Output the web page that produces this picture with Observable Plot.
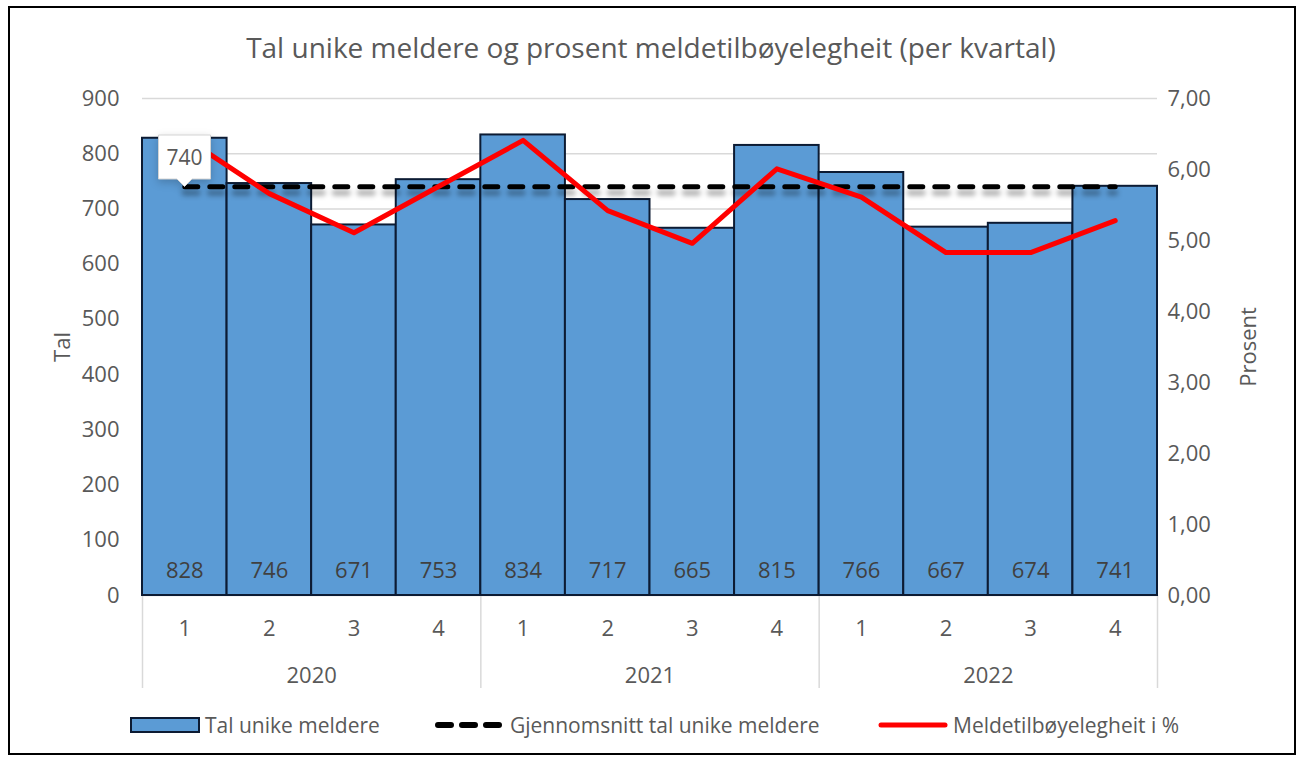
<!DOCTYPE html>
<html><head><meta charset="utf-8">
<script src="https://cdn.jsdelivr.net/npm/d3@7"></script>
<script src="https://cdn.jsdelivr.net/npm/@observablehq/plot@0.6"></script>
<style>
body{margin:0;background:#fff;font-family:"Open Sans",Lato,sans-serif;}
#wrap{position:relative;width:1300px;height:758px;overflow:hidden;background:#fff;}
#frame{position:absolute;left:8px;top:6px;width:1288px;height:749px;border:2px solid #000;box-sizing:border-box;pointer-events:none;}
#title{position:absolute;top:27px;left:0;width:1302px;text-align:center;font-size:28px;line-height:40px;color:#595959;}
#chart{position:absolute;left:0;top:0;}
#legend{position:absolute;top:711px;left:0;width:1300px;height:28px;}
.item{position:absolute;top:0;display:flex;align-items:center;height:28px;font-size:21px;color:#595959;white-space:nowrap;}
.item svg{margin-right:5px;}
</style>
</head><body>
<div id="wrap">
  <div id="chart"></div>
  <div id="title"></div>
  <div id="legend"></div>
  <div id="frame"></div>
</div>
<script>
const title = "Tal unike meldere og prosent meldetilbøyelegheit (per kvartal)";
const quarters = ["1","2","3","4","1","2","3","4","1","2","3","4"];
const years = ["2020","2021","2022"];
const meldere = [828,746,671,753,834,717,665,815,766,667,674,741];
const prosent = [6.45,5.66,5.11,5.76,6.41,5.42,4.96,6.01,5.61,4.83,4.83,5.28];
const snitt = 740;
const leftTicks = [0,100,200,300,400,500,600,700,800,900];
const rightTicks = [0,1,2,3,4,5,6,7];
const seriesNames = ["Tal unike meldere","Gjennomsnitt tal unike meldere","Meldetilbøyelegheit i %"];
const axisTitles = ["Tal","Prosent"];

const leftMax = 900, rightMax = 7;
const k = leftMax / rightMax;
const perYear = quarters.length / years.length;
const rows = meldere.map((v,i)=>({i, q: quarters[i], year: years[Math.floor(i/perYear)], v, p: prosent[i]}));
const yearRows = years.map((y,j)=>({year:y, c: j*perYear + perYear/2}));
const seps = d3.range(0, quarters.length + 1, perYear);
const mid = d => d.i + 0.5;

const blue = "#5B9BD5", outline = "#0c1b33", red = "#FF0000", txt = "#595959";
const font = "'Open Sans', Lato, sans-serif";
const fs = 22;

document.getElementById("title").textContent = title;

const chart = Plot.plot({
  width: 1300, height: 700,
  marginTop: 98, marginBottom: 105, marginLeft: 142, marginRight: 143,
  style: {fontFamily: font, fontSize: "20px", color: txt, background: "transparent", overflow: "visible"},
  x: {domain: [0, quarters.length], axis: null},
  y: {domain: [0, leftMax], axis: null},
  marks: [
    Plot.ruleY(leftTicks, {stroke: "#d9d9d9", strokeWidth: 1.5}),
    Plot.axisY({anchor: "left", ticks: leftTicks, tickSize: 0, tickPadding: 23, fontSize: fs, label: null, fill: txt}),
    Plot.axisY({anchor: "right", ticks: rightTicks.map(v => v*k), tickFormat: v => (v/k).toFixed(2).replace(".", ","), tickSize: 0, tickPadding: 10, fontSize: fs, label: null, fill: txt}),
    Plot.text([axisTitles[0]], {frameAnchor: "left", dx: -80, rotate: -90, textAnchor: "middle", fontSize: 22, fill: txt}),
    Plot.text([axisTitles[1]], {frameAnchor: "right", dx: 91, rotate: -90, textAnchor: "middle", fontSize: 22, fill: txt}),
    Plot.ruleX(seps, {y1: 0, y2: 0, insetTop: 0, insetBottom: -93, stroke: "#d9d9d9", strokeWidth: 1.5}),
    Plot.rectY(rows, {x1: d => d.i, x2: d => d.i + 1, y: "v", fill: blue, stroke: outline, strokeWidth: 2}),
    Plot.text(rows, {x: mid, y: 0, text: d => String(d.v), dy: -25, fill: "#404040", fontSize: fs}),
    Plot.text(rows, {x: mid, y: 0, text: "q", dy: 33, fontSize: fs, fill: txt}),
    Plot.text(yearRows, {x: "c", y: 0, text: "year", dy: 80, fontSize: fs, fill: txt}),
    Plot.line(rows, {x: mid, y: () => snitt, stroke: "#000", strokeOpacity: 0.3, strokeWidth: 6, strokeDasharray: "13,12", strokeLinecap: "round", dy: 6, imageFilter: "blur(2.5px)"}),
    Plot.line(rows, {x: mid, y: () => snitt, stroke: "#000", strokeWidth: 5, strokeDasharray: "13,12", strokeLinecap: "round"}),
    Plot.line(rows, {x: mid, y: d => d.p * k, stroke: red, strokeWidth: 5, strokeLinejoin: "round"}),
    Plot.tip([rows[0]], {x: mid, y: () => snitt, title: () => String(snitt), anchor: "bottom", fill: "white", stroke: "#d4d4d4", fontSize: 21, textPadding: 8, pointerSize: 15})
  ]
});
document.getElementById("chart").appendChild(chart);
d3.select(chart).selectAll("g[aria-label=tip] text").attr("fill", txt).style("fill", txt);

// legend
const legend = d3.select("#legend");
const items = [
  {x: 130, draw: s => s.append("rect").attr("x",1).attr("y",6).attr("width",68).attr("height",14).attr("fill",blue).attr("stroke",outline).attr("stroke-width",2)},
  {x: 435, draw: s => s.append("line").attr("x1",3).attr("x2",67).attr("y1",13).attr("y2",13).attr("stroke","#000").attr("stroke-width",6).attr("stroke-dasharray","13,11").attr("stroke-linecap","round")},
  {x: 878, draw: s => s.append("line").attr("x1",3).attr("x2",67).attr("y1",13).attr("y2",13).attr("stroke",red).attr("stroke-width",5).attr("stroke-linecap","round")}
];
items.forEach((it, j) => {
  const div = legend.append("div").attr("class","item").style("left", it.x + "px");
  const s = div.append("svg").attr("width",70).attr("height",26);
  it.draw(s);
  div.append("span").text(seriesNames[j]);
});
</script>
</body></html>
